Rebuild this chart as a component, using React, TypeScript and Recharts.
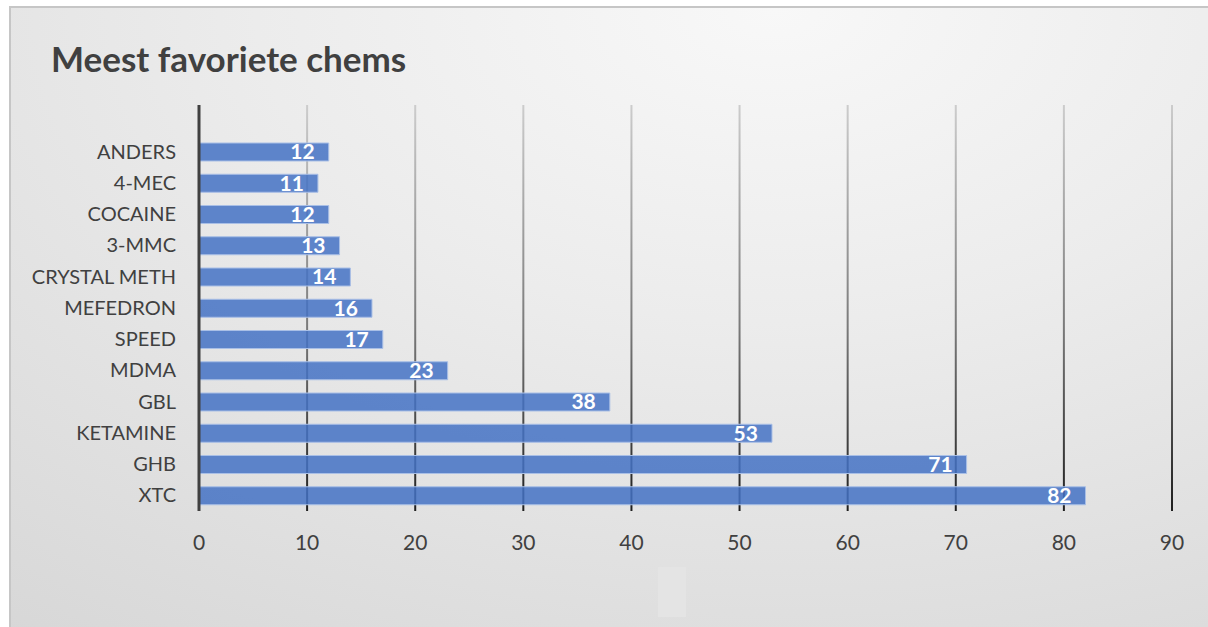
import React from "react";
import { BarChart, Bar, XAxis, YAxis, CartesianGrid, LabelList } from "recharts";

const categories = ["ANDERS", "4-MEC", "COCAINE ", "3-MMC", "CRYSTAL METH", "MEFEDRON", "SPEED", "MDMA", "GBL", "KETAMINE", "GHB", "XTC"];
const values = [12, 11, 12, 13, 14, 16, 17, 23, 38, 53, 71, 82];
const xTicks = [0, 10, 20, 30, 40, 50, 60, 70, 80, 90];
const title = "Meest favoriete chems";

const data = categories.map((c, i) => ({ name: c, value: values[i] }));

const FONT = "Lato, 'Open Sans', sans-serif";

export default function App() {
  return (
    <div style={{ position: "fixed", left: 0, top: 0, width: 1208, height: 627, overflow: "hidden", background: "#fff" }}>
      <div
        style={{
          position: "absolute",
          left: 9,
          top: 6,
          width: 1230,
          height: 640,
          borderLeft: "2px solid #c6c6c6",
          borderTop: "2px solid #c6c6c6",
          background: "radial-gradient(ellipse 120% 140% at 62% 0%, #f8f8f8 0%, #ececec 35%, #dcdcdc 75%, #d2d2d2 100%)",
        }}
      />
      <div
        style={{
          position: "absolute",
          left: 51,
          top: 37,
          fontFamily: FONT,
          fontWeight: 700,
          fontSize: 35,
          lineHeight: "42px",
          color: "#404040",
          whiteSpace: "nowrap",
        }}
      >
        {title}
      </div>
      <div style={{ position: "absolute", left: 658, top: 567, width: 28, height: 50, background: "#e4e4e4" }} />
      <div style={{ position: "absolute", left: 0, top: 0 }}>
        <BarChart
          width={1208}
          height={627}
          data={data}
          layout="vertical"
          margin={{ top: 105, right: 36, bottom: 76, left: 0 }}
          barSize={18}
        >
          <defs>
            <linearGradient id="gridGrad" gradientUnits="userSpaceOnUse" x1="0" y1="105" x2="0" y2="511">
              <stop offset="0%" stopColor="#cccccc" />
              <stop offset="55%" stopColor="#7a7a7a" />
              <stop offset="100%" stopColor="#1e1e1e" />
            </linearGradient>
          </defs>
          <CartesianGrid horizontal={false} vertical={true} stroke="url(#gridGrad)" strokeWidth={2} />
          <XAxis
            type="number"
            domain={[0, 90]}
            ticks={xTicks}
            axisLine={false}
            tickLine={false}
            tickMargin={18}
            height={40}
            tick={{ fill: "#404040", fontSize: 21, fontFamily: FONT }}
            interval={0}
          />
          <YAxis
            type="category"
            dataKey="name"
            width={199}
            padding={{ top: 31, bottom: 0 }}
            axisLine={{ stroke: "#404040", strokeWidth: 3 }}
            tickLine={false}
            tickSize={0}
            tickMargin={23}
            interval={0}
            tick={{ fill: "#404040", fontSize: 20, fontFamily: FONT }}
          />
          <Bar
            dataKey="value"
            fill="#4472C4"
            fillOpacity={0.85}
            stroke="#a9bfe6"
            strokeWidth={1}
            isAnimationActive={false}
          >
            <LabelList
              dataKey="value"
              position="insideRight"
              offset={14}
              fill="#ffffff"
              style={{ fontWeight: 700, fontSize: 21, fontFamily: FONT }}
            />
          </Bar>
        </BarChart>
      </div>
    </div>
  );
}
